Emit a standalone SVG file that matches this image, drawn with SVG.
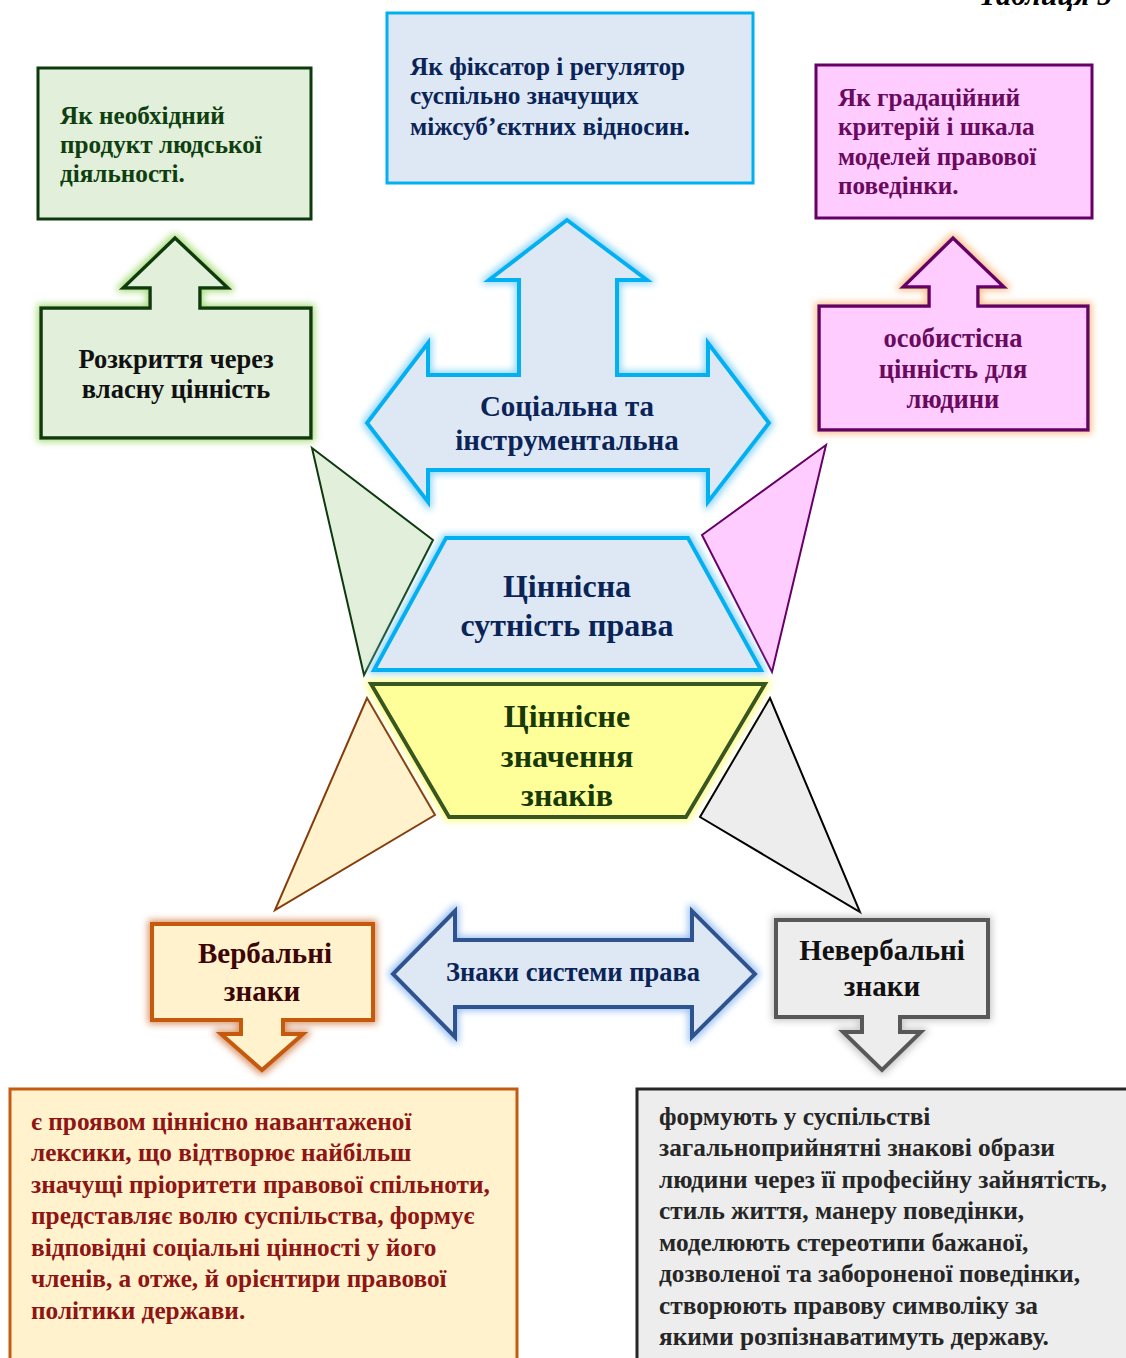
<svg xmlns="http://www.w3.org/2000/svg" width="1126" height="1358" viewBox="0 0 1126 1358">
<defs>
<style>
text{font-family:"Liberation Serif","Times New Roman",serif;font-weight:bold;}
.c{text-anchor:middle;}
</style>
<filter id="gGreen" x="-20%" y="-20%" width="140%" height="140%">
<feMorphology in="SourceAlpha" operator="dilate" radius="2" result="d"/><feGaussianBlur in="d" stdDeviation="3.5" result="b"/>
<feFlood flood-color="#a9dd7c"/><feComposite in2="b" operator="in" result="g"/>
<feMerge><feMergeNode in="g"/><feMergeNode in="SourceGraphic"/></feMerge></filter>
<filter id="gBlue" x="-20%" y="-20%" width="140%" height="140%">
<feMorphology in="SourceAlpha" operator="dilate" radius="2" result="d"/><feGaussianBlur in="d" stdDeviation="3.5" result="b"/>
<feFlood flood-color="#8fd6f8"/><feComposite in2="b" operator="in" result="g"/>
<feMerge><feMergeNode in="g"/><feMergeNode in="SourceGraphic"/></feMerge></filter>
<filter id="gOrange" x="-20%" y="-20%" width="140%" height="140%">
<feMorphology in="SourceAlpha" operator="dilate" radius="2" result="d"/><feGaussianBlur in="d" stdDeviation="3.5" result="b"/>
<feFlood flood-color="#f8bf8c"/><feComposite in2="b" operator="in" result="g"/>
<feMerge><feMergeNode in="g"/><feMergeNode in="SourceGraphic"/></feMerge></filter>
<filter id="gYellow" x="-20%" y="-20%" width="140%" height="140%">
<feMorphology in="SourceAlpha" operator="dilate" radius="2" result="d"/><feGaussianBlur in="d" stdDeviation="3.5" result="b"/>
<feFlood flood-color="#ffff80"/><feComposite in2="b" operator="in" result="g"/>
<feMerge><feMergeNode in="g"/><feMergeNode in="SourceGraphic"/></feMerge></filter>
<filter id="gBrown" x="-20%" y="-20%" width="140%" height="140%">
<feMorphology in="SourceAlpha" operator="dilate" radius="2" result="d"/><feGaussianBlur in="d" stdDeviation="3.5" result="b"/>
<feFlood flood-color="#d89468"/><feComposite in2="b" operator="in" result="g"/>
<feMerge><feMergeNode in="g"/><feMergeNode in="SourceGraphic"/></feMerge></filter>
<filter id="gNavy" x="-20%" y="-20%" width="140%" height="140%">
<feMorphology in="SourceAlpha" operator="dilate" radius="2" result="d"/><feGaussianBlur in="d" stdDeviation="3.5" result="b"/>
<feFlood flood-color="#9cc2f2"/><feComposite in2="b" operator="in" result="g"/>
<feMerge><feMergeNode in="g"/><feMergeNode in="SourceGraphic"/></feMerge></filter>
<filter id="gGray" x="-20%" y="-20%" width="140%" height="140%">
<feMorphology in="SourceAlpha" operator="dilate" radius="2" result="d"/><feGaussianBlur in="d" stdDeviation="3.5" result="b"/>
<feFlood flood-color="#c8c8c8"/><feComposite in2="b" operator="in" result="g"/>
<feMerge><feMergeNode in="g"/><feMergeNode in="SourceGraphic"/></feMerge></filter>
</defs>
<rect width="1126" height="1358" fill="#ffffff"/>

<text x="1112" y="5" text-anchor="end" font-style="italic" font-size="30" fill="#000">Таблиця 5</text>

<g id="connectors">
<polygon points="312,448 433,540 364,675" fill="#e2efda" stroke="#0d3a0d" stroke-width="2"/>
<polygon points="826,445 702,535 772,672" fill="#ffccff" stroke="#660066" stroke-width="2"/>
<polygon points="367,698 435,815 275,910" fill="#fff2cc" stroke="#843c0c" stroke-width="2"/>
<polygon points="770,698 700,817 860,912" fill="#ededed" stroke="#000" stroke-width="2"/>
</g>

<g id="node-product">
<rect x="38" y="68" width="273" height="151" fill="#e2efda" stroke="#0d3a0d" stroke-width="3"/>
<text font-size="25.2" fill="#0f3f10"><tspan x="60" y="124">Як необхідний</tspan><tspan x="60" y="153">продукт людської</tspan><tspan x="60" y="182">діяльності.</tspan></text>
</g>

<g id="node-own-value">
<path d="M41,308 L150,308 L150,288 L123,288 L175,238 L228,288 L200,288 L200,308 L311,308 L311,438 L41,438 Z" fill="#e2efda" stroke="#0d3a0d" stroke-width="3.5" filter="url(#gGreen)"/>
<text class="c" font-size="26.5" fill="#111"><tspan x="176" y="368">Розкриття через</tspan><tspan x="176" y="398">власну цінність</tspan></text>
</g>

<g id="node-regulator">
<rect x="387" y="13" width="366" height="170" fill="#dee8f4" stroke="#00b0f0" stroke-width="3"/>
<text font-size="25.3" fill="#0a2458"><tspan x="410" y="75">Як фіксатор і регулятор</tspan><tspan x="410" y="104">суспільно значущих</tspan><tspan x="410" y="135">міжсуб’єктних відносин<tspan fill="#000">.</tspan></tspan></text>
</g>

<g id="node-social">
<path d="M567,220 L647,280 L617,280 L617,375 L708,375 L708,343 L769,423 L708,502 L708,470 L428,470 L428,502 L367,423 L428,343 L428,375 L519,375 L519,280 L489,280 Z" fill="#dee8f4" stroke="#00b0f0" stroke-width="4" filter="url(#gBlue)"/>
<text class="c" font-size="29" fill="#0a2458"><tspan x="567" y="416">Соціальна та</tspan><tspan x="567" y="450">інструментальна</tspan></text>
</g>

<g id="node-gradation">
<rect x="816" y="65" width="276" height="153" fill="#ffccff" stroke="#660066" stroke-width="3"/>
<text font-size="25.2" fill="#6a0a5e"><tspan x="838" y="106">Як градаційний</tspan><tspan x="838" y="135">критерій і шкала</tspan><tspan x="838" y="165">моделей правової</tspan><tspan x="838" y="194">поведінки.</tspan></text>
</g>

<g id="node-personal">
<path d="M819,306 L929,306 L929,287 L903,287 L953,238 L1004,287 L978,287 L978,306 L1088,306 L1088,430 L819,430 Z" fill="#ffccff" stroke="#660066" stroke-width="3.5" filter="url(#gOrange)"/>
<text class="c" font-size="26.5" fill="#6a0a5e"><tspan x="953" y="347">особистісна</tspan><tspan x="953" y="378">цінність для</tspan><tspan x="953" y="408">людини</tspan></text>
</g>

<g id="node-essence">
<polygon points="446,538 688,538 761,670 374,670" fill="#dee8f4" stroke="#00b0f0" stroke-width="4" filter="url(#gBlue)"/>
<text class="c" font-size="32" fill="#0a2458"><tspan x="567" y="597">Ціннісна</tspan><tspan x="567" y="636">сутність права</tspan></text>
</g>

<g id="node-meaning">
<polygon points="371,684 765,684 686,817 449,817" fill="#ffff99" stroke="#385723" stroke-width="4" filter="url(#gYellow)"/>
<text class="c" font-size="32" fill="#173a05"><tspan x="567" y="727">Ціннісне</tspan><tspan x="567" y="767">значення</tspan><tspan x="567" y="806">знаків</tspan></text>
</g>

<g id="node-verbal">
<path d="M152,924 L373,924 L373,1020 L283,1020 L283,1034 L303,1034 L262,1070 L221,1034 L241,1034 L241,1020 L152,1020 Z" fill="#fff2cc" stroke="#c55a11" stroke-width="4" filter="url(#gBrown)"/>
<text class="c" font-size="29" fill="#3d0505"><tspan x="265" y="963">Вербальні</tspan><tspan x="262" y="1001">знаки</tspan></text>
</g>

<g id="node-system">
<path d="M393,974 L455,911 L455,940 L692,940 L692,911 L755,974 L692,1037 L692,1007 L455,1007 L455,1037 Z" fill="#dee8f4" stroke="#2f528f" stroke-width="4" filter="url(#gNavy)"/>
<text class="c" x="573" y="981" font-size="26.5" fill="#0a2458">Знаки системи права</text>
</g>

<g id="node-nonverbal">
<path d="M776,920 L988,920 L988,1017 L900,1017 L900,1032 L921,1032 L882,1070 L843,1032 L862,1032 L862,1017 L776,1017 Z" fill="#ededed" stroke="#595959" stroke-width="4" filter="url(#gGray)"/>
<text class="c" font-size="29" fill="#111"><tspan x="882" y="960">Невербальні</tspan><tspan x="882" y="996">знаки</tspan></text>
</g>

<g id="node-verbal-desc">
<rect x="10" y="1089" width="507" height="290" fill="#fff2cc" stroke="#c55a11" stroke-width="3"/>
<text font-size="25.3" fill="#8f1515"><tspan x="31" y="1130">є проявом ціннісно навантаженої</tspan><tspan x="31" y="1161">лексики, що відтворює найбільш</tspan><tspan x="31" y="1193">значущі пріоритети правової спільноти,</tspan><tspan x="31" y="1224">представляє волю суспільства, формує</tspan><tspan x="31" y="1256">відповідні соціальні цінності у його</tspan><tspan x="31" y="1287">членів, а отже, й орієнтири правової</tspan><tspan x="31" y="1319">політики держави.</tspan></text>
</g>

<g id="node-nonverbal-desc">
<rect x="637" y="1089" width="500" height="290" fill="#ededed" stroke="#262626" stroke-width="3"/>
<text font-size="25.3" fill="#262626"><tspan x="659" y="1125">формують у суспільстві</tspan><tspan x="659" y="1156">загальноприйнятні знакові образи</tspan><tspan x="659" y="1188">людини через її професійну зайнятість,</tspan><tspan x="659" y="1219">стиль життя, манеру поведінки,</tspan><tspan x="659" y="1251">моделюють стереотипи бажаної,</tspan><tspan x="659" y="1282">дозволеної та забороненої поведінки,</tspan><tspan x="659" y="1314">створюють правову символіку за</tspan><tspan x="659" y="1345">якими розпізнаватимуть державу.</tspan></text>
</g>
</svg>
